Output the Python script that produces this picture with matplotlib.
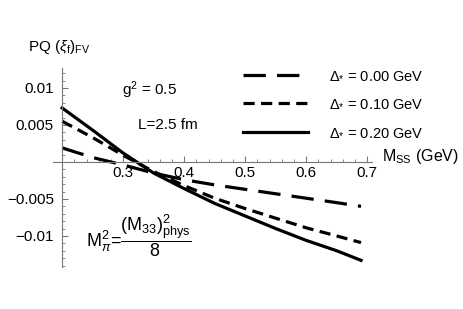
import matplotlib
matplotlib.use('Agg')
import matplotlib.pyplot as plt
from matplotlib.ticker import MultipleLocator, FixedLocator

plt.rcParams.update({
    'font.family': 'Liberation Sans',
    'mathtext.fontset': 'custom',
    'mathtext.rm': 'Liberation Sans',
    'mathtext.it': 'Liberation Sans:italic',
    'mathtext.sf': 'Liberation Sans',
})

# M_SS (GeV) and PQ (xi_f)_FV
m_ss = [0.20, 0.25, 0.30, 0.35, 0.40, 0.45, 0.50, 0.55, 0.60, 0.65, 0.69]
delta_000 = [0.0019, 0.0006, -0.0004, -0.0015, -0.0024, -0.0031, -0.0037, -0.0043, -0.0049, -0.0055, -0.0060]
delta_010 = [0.0055, 0.0033, 0.0009, -0.0013, -0.0032, -0.0049, -0.0063, -0.0076, -0.0089, -0.0100, -0.0109]
delta_020 = [0.0073, 0.0043, 0.0012, -0.0015, -0.0036, -0.0056, -0.0073, -0.0090, -0.0106, -0.0120, -0.0133]
labels = [r'$\Delta_{*}$ = 0.00 GeV', r'$\Delta_{*}$ = 0.10 GeV', r'$\Delta_{*}$ = 0.20 GeV']

W, H = 463, 309
fig = plt.figure(figsize=(W / 100, H / 100), dpi=100)
ax = fig.add_axes([53 / W, (H - 267) / H, (372 - 53) / W, (267 - 68) / H])
ax.set_xlim(0.185, 0.708)
ax.set_ylim(-0.0142, 0.0127)

ax.plot(m_ss, delta_000, color='black', lw=2.3, dashes=(7, 3.5))
ax.plot(m_ss, delta_010, color='black', lw=2.3, dashes=(3.5, 2))
ax.plot(m_ss, delta_020, color='black', lw=2.3)

# Mathematica-like axes crossing at (0.2, 0)
for s in ['top', 'right']:
    ax.spines[s].set_visible(False)
ax.spines['left'].set_position(('data', 0.2))
ax.spines['bottom'].set_position(('data', 0.0))
for s in ['left', 'bottom']:
    ax.spines[s].set_color('#777777')
    ax.spines[s].set_linewidth(0.8)

ax.xaxis.set_major_locator(FixedLocator([0.3, 0.4, 0.5, 0.6, 0.7]))
ax.xaxis.set_minor_locator(MultipleLocator(0.02))
ax.yaxis.set_major_locator(FixedLocator([-0.01, -0.005, 0.005, 0.01]))
ax.yaxis.set_minor_locator(MultipleLocator(0.001))
ax.set_xticklabels(['0.3', '0.4', '0.5', '0.6', '0.7'])
ax.set_yticklabels(['\u22120.01', '\u22120.005', '0.005', '0.01'])
ax.tick_params(axis='x', which='both', direction='in', color='#777777', labelsize=11, pad=3)
ax.tick_params(axis='y', which='both', direction='in', color='#777777', labelsize=11, pad=6)
ax.tick_params(which='major', length=4, width=0.8)
ax.tick_params(which='minor', length=2, width=0.6)

ax.patch.set_visible(False)

# axis labels
fig.text(28 / W, 1 - 47 / H, r'PQ $(\xi_{\rm f})_{\rm FV}$', fontsize=11, va='center', ha='left')
fig.text(382 / W, 1 - 157 / H, r'M$_{\rm SS}$ (GeV)', fontsize=11.5, va='center', ha='left')

# annotations
fig.text(122 / W, 1 - 90 / H, r'g$^2$ = 0.5', fontsize=11, va='center', ha='left')
fig.text(138 / W, 1 - 125 / H, 'L=2.5 fm', fontsize=11, va='center', ha='left')
fig.text(86 / W, 1 - 236 / H,
         r'M$_\pi^2$=$\dfrac{({\rm M}_{33})^2_{\rm phys}}{8}$', fontsize=13, va='center', ha='left')

# legend drawn by hand as in the original
legend_y = [75, 103, 132]
styles = [dict(dashes=(7, 3.5)), dict(dashes=(3.5, 2)), dict()]
for yy, lab, st in zip(legend_y, labels, styles):
    fig.add_artist(plt.Line2D([243 / W, 308 / W], [1 - yy / H, 1 - yy / H],
                              color='black', lw=2.3, transform=fig.transFigure, **st))
    fig.text(329 / W, 1 - yy / H, lab, fontsize=10.5, va='center', ha='left')

fig.savefig('out.png', dpi=100)
